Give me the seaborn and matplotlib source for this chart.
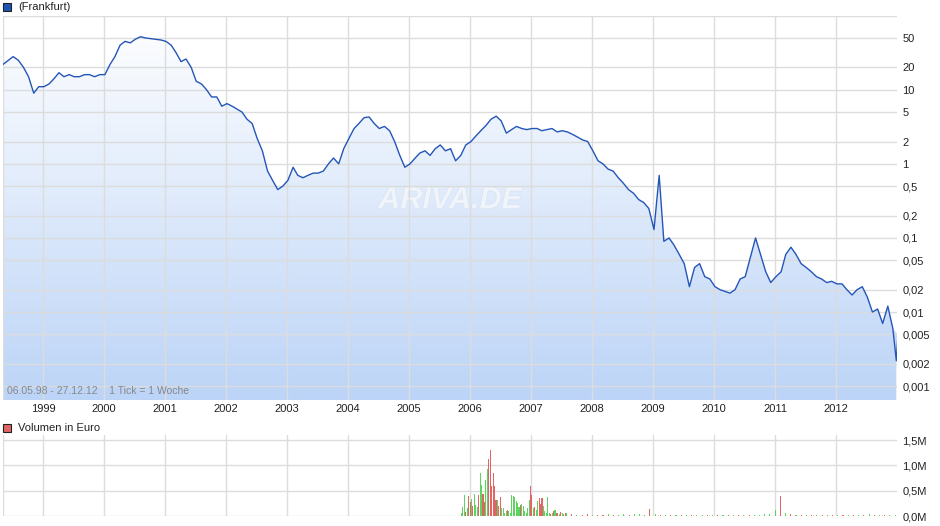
import numpy as np
import pandas as pd
import matplotlib
matplotlib.use("Agg")
import matplotlib.pyplot as plt
import matplotlib.dates as mdates
import matplotlib.patheffects as pe
from matplotlib.ticker import FixedLocator, FixedFormatter
import seaborn as sns

price_1998 = [22, 28, 25, 20, 15, 9, 11, 11]
price_1999 = [12, 14, 17, 15, 16, 15, 15, 16, 16, 15, 16, 16]
price_2000 = [22, 28, 40, 45, 43, 48, 52, 50, 49, 48, 47, 45]
price_2001 = [40, 32, 24, 26, 20, 13, 12, 10, 8, 8, 6, 6.5]
price_2002 = [6, 5.5, 5, 4, 3.5, 2.2, 1.5, 0.8, 0.6, 0.45, 0.5, 0.6]
price_2003 = [0.9, 0.7, 0.65, 0.7, 0.75, 0.75, 0.8, 1.0, 1.2, 1.0, 1.6, 2.2]
price_2004 = [3.0, 3.5, 4.2, 4.3, 3.5, 3.0, 3.2, 2.8, 2.0, 1.3, 0.9, 1.0]
price_2005 = [1.2, 1.4, 1.5, 1.3, 1.6, 1.8, 1.5, 1.6, 1.1, 1.3, 1.8, 2.0]
price_2006 = [2.4, 2.8, 3.3, 4.0, 4.4, 3.8, 2.6, 2.9, 3.2, 3.0, 2.9, 3.0]
price_2007 = [3.0, 2.8, 2.9, 3.0, 2.7, 2.8, 2.7, 2.5, 2.3, 2.1, 2.0, 1.5]
price_2008 = [1.1, 1.0, 0.85, 0.8, 0.65, 0.55, 0.45, 0.4, 0.33, 0.3, 0.25, 0.13]
price_2009 = [0.7, 0.09, 0.1, 0.08, 0.06, 0.045, 0.022, 0.04, 0.045, 0.03, 0.028, 0.022]
price_2010 = [0.02, 0.019, 0.018, 0.02, 0.028, 0.03, 0.055, 0.1, 0.06, 0.035, 0.025, 0.03]
price_2011 = [0.035, 0.06, 0.075, 0.06, 0.045, 0.04, 0.035, 0.03, 0.028, 0.025, 0.026, 0.024]
price_2012 = [0.024, 0.02, 0.017, 0.02, 0.022, 0.016, 0.01, 0.011, 0.007, 0.012, 0.006, 0.005]
price_last = [0.0022]

volume_active = [50, 170, 420, 80, 150, 390, 280, 330, 200, 440, 220, 170, 410, 850, 620,
                 430, 280, 720, 930, 1120, 1310, 600, 840, 600, 310, 320, 200, 380, 160,
                 160, 60, 100, 120, 100, 60, 410, 390, 370, 290, 250, 170, 220, 230, 200, 100,
                 60, 150, 320, 600, 420, 160, 180, 120, 300, 350, 230, 350, 200, 100, 60, 380,
                 50, 40, 60, 90, 120, 50, 60, 40, 80, 60, 40, 50, 50]
volume_active_up = "gggrgrrgrgggrggrrggrrrrrrgrrggggrggggggggrggggggrrgrggrrrgggggrgrgrrgrgg"
volume_late = [30, 25, 20, 30, 25, 20, 25, 30, 20, 25, 30, 20, 40, 30, 25, 140, 40, 15, 15,
               20, 15, 15, 15, 20, 15, 15, 20, 15, 15, 20, 15, 15, 25, 20, 20, 15, 15,
               30, 40, 120, 400, 60, 30, 20, 15, 15, 20, 15, 15, 20, 15, 15, 15, 20, 15, 15,
               15, 30, 15, 15, 20, 15, 15]
volume_late_up = "rgrgrrgrrgrggrgggrgrgrgrgrggrgrgrgrgrgggggrgrgrgrgrgrgrgrgrgrgr"

y_ticks = [0.001, 0.002, 0.005, 0.01, 0.02, 0.05, 0.1, 0.2, 0.5, 1, 2, 5, 10, 20, 50]
y_labels = ["0,001", "0,002", "0,005", "0,01", "0,02", "0,05", "0,1", "0,2", "0,5",
            "1", "2", "5", "10", "20", "50"]
vol_ticks = [0, 500, 1000, 1500]
vol_labels = ["0,0M", "0,5M", "1,0M", "1,5M"]

prices = (price_1998 + price_1999 + price_2000 + price_2001 + price_2002 + price_2003 +
          price_2004 + price_2005 + price_2006 + price_2007 + price_2008 + price_2009 +
          price_2010 + price_2011 + price_2012 + price_last)
dates = list(pd.date_range("1998-05-06", periods=len(prices) - 1, freq="MS") + pd.Timedelta(days=5))
dates[0] = pd.Timestamp("1998-05-06")
dates.append(pd.Timestamp("2012-12-27"))
df = pd.DataFrame({"date": dates, "price": prices})

sns.set_style("white")
plt.rcParams["font.family"] = ["Liberation Sans", "DejaVu Sans"]
W, H = 940, 526
fig = plt.figure(figsize=(9.4, 5.26), dpi=100)
ax = fig.add_axes([3 / W, (H - 400) / H, 894 / W, 384 / H])
axv = fig.add_axes([3 / W, (H - 516) / H, 894 / W, 81 / H])

xmin, xmax = pd.Timestamp("1998-05-06"), pd.Timestamp("2012-12-31")
ymin, ymax = 0.00065, 99
grid_c = "#dcdcdc"
for a in (ax, axv):
    a.set_xlim(xmin, xmax)
    for s in a.spines.values():
        s.set_visible(False)
    a.grid(True, color=grid_c, lw=1, zorder=2)
    a.set_axisbelow(False)
    a.yaxis.tick_right()
    a.tick_params(length=0, labelsize=8, colors="#222222", pad=4)
    a.xaxis.set_major_locator(mdates.YearLocator())
    a.xaxis.set_major_formatter(mdates.DateFormatter("%Y"))
ax.plot([xmin, xmin], [ymin, ymax], color=grid_c, lw=1)
ax.plot([xmin, xmax], [ymax, ymax], color=grid_c, lw=1)

ax.set_yscale("log")
ax.set_ylim(ymin, ymax)
ax.yaxis.set_major_locator(FixedLocator(y_ticks))
ax.yaxis.set_major_formatter(FixedFormatter(y_labels))
ax.yaxis.set_minor_locator(FixedLocator([]))

poly = ax.fill_between(df["date"], df["price"], ymin, color="none")
grad = np.linspace(0, 1, 256).reshape(-1, 1)
cmap = matplotlib.colors.LinearSegmentedColormap.from_list("g", ["#ffffff", "#bcd4f7"])
im = ax.imshow(grad, aspect="auto", cmap=cmap, origin="upper",
               extent=[0, 1, 0, 1], transform=ax.transAxes, zorder=1)
im.set_clip_path(poly.get_paths()[0], transform=ax.transData)
ax.set_xlim(xmin, xmax)
ax.set_ylim(ymin, ymax)
sns.lineplot(data=df, x="date", y="price", ax=ax, color="#2456b8", lw=1, zorder=3)
ax.set_xlabel("")
ax.set_ylabel("")
ax.tick_params(axis="x", pad=3)

ax.text(0.5, 0.52, "ARIVA.DE", transform=ax.transAxes, fontsize=22, fontstyle="italic",
        fontweight="bold", color="#f2f6fc", alpha=0.8, ha="center", va="center", zorder=2,
        path_effects=[pe.withStroke(linewidth=1, foreground="#d8e2ef")])
ax.text(0.004, 0.01, "06.05.98 - 27.12.12    1 Tick = 1 Woche", transform=ax.transAxes,
        fontsize=7.5, color="#888888", ha="left", va="bottom", zorder=4)

vdates_a = pd.date_range("2005-11-10", "2007-08-01", periods=len(volume_active))
vdates_l = pd.date_range("2007-09-01", "2012-12-20", periods=len(volume_late))
vd = list(vdates_a) + list(vdates_l)
vv = volume_active + volume_late
vc = ["#5fd35f" if c == "g" else "#e06666" for c in (volume_active_up + volume_late_up)]
axv.bar(vd, vv, width=6.5, color=vc, lw=0, zorder=3)
axv.set_ylim(0, 1600)
axv.yaxis.set_major_locator(FixedLocator(vol_ticks))
axv.yaxis.set_major_formatter(FixedFormatter(vol_labels))
axv.set_xticklabels([])
axv.plot([xmin, xmin], [0, 1600], color=grid_c, lw=1)

fig.patches.append(matplotlib.patches.Rectangle((3 / W, (H - 11) / H), 8 / W, 8 / H,
                   transform=fig.transFigure, facecolor="#1f55b5", edgecolor="#222222", lw=0.8))
fig.text(18 / W, (H - 7) / H, "(Frankfurt)", fontsize=8, va="center", color="#222222")
fig.patches.append(matplotlib.patches.Rectangle((3 / W, (H - 432) / H), 8 / W, 8 / H,
                   transform=fig.transFigure, facecolor="#e06666", edgecolor="#222222", lw=0.8))
fig.text(18 / W, (H - 428) / H, "Volumen in Euro", fontsize=8, va="center", color="#222222")

fig.savefig("out.png", dpi=100)
